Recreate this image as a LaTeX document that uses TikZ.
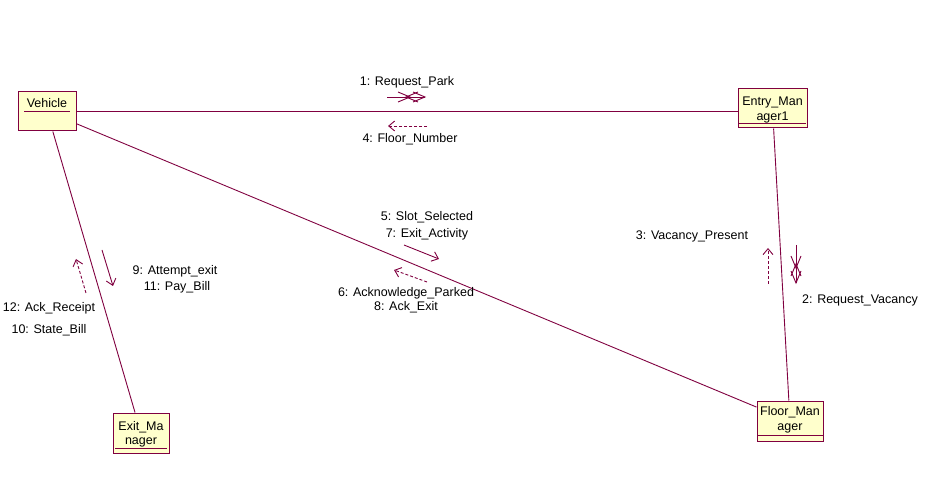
\documentclass[tikz,border=0pt]{standalone}
\usepackage{fontspec}
\setmainfont{Liberation Sans}
\usetikzlibrary{arrows.meta}
\definecolor{rose}{RGB}{128,0,64}
\definecolor{boxfill}{RGB}{255,255,204}
\begin{document}
\begin{tikzpicture}[x=1pt,y=-1pt,
  obj/.style={draw=rose, fill=boxfill, line width=1pt, inner sep=0pt, rectangle},
  lnk/.style={draw=rose, line width=0.9pt},
  sep/.style={draw=rose, line width=0.9pt},
  msg/.style={draw=rose, line width=0.9pt, -{Straight Barb[length=6pt,width=10pt]}},
  rmsg/.style={msg, dash pattern=on 3pt off 2pt},
  chev/.style={draw=rose, line width=0.9pt},
  lbl/.style={font=\fontsize{12.5}{14}\selectfont, inner sep=0pt, text=black},
]
\useasboundingbox (0,0) rectangle (927,497);
\fill[white] (0,0) rectangle (927,497);

% objects
\node[obj, minimum width=58pt, minimum height=39pt] (veh) at (47,111.5) {};
\node[obj, minimum width=69pt, minimum height=39pt] (ent) at (772.5,108.5) {};
\node[obj, minimum width=66pt, minimum height=40pt] (flm) at (790,421) {};
\node[obj, minimum width=56pt, minimum height=40pt] (exm) at (141,433) {};

\node[lbl] (vehT) at (47,103) {Vehicle};
\draw[sep] (24,111) -- (70,111);
\node[lbl] (entT1) at (772.5,102) {Entry\_Man};
\node[lbl] (entT2) at (772.5,117) {ager1};
\draw[sep] (739,123) -- (806,123);
\node[lbl] (flmT1) at (790,412) {Floor\_Man};
\node[lbl] (flmT2) at (790,428) {ager};
\draw[sep] (757,435) -- (823,435);
\node[lbl] (exmT1) at (141,427) {Exit\_Ma};
\node[lbl] (exmT2) at (141,442) {nager};
\draw[sep] (115,448) -- (167,448);

% links
\draw[lnk] (veh.east) -- (veh.east -| ent.west);
\draw[lnk] (veh) -- (flm);
\draw[lnk] (veh) -- (exm);
\draw[lnk] (ent) -- (flm);

% messages Vehicle -> Entry_Manager1
\coordinate (m1a) at (387,97); \coordinate (m1b) at (425,97);
\draw[chev] (m1a) -- (m1b);
\draw[chev] (398,92) -- (410,97) -- (398,102);
\draw[chev] (418,92) -- (406,97) -- (418,102);
\draw[chev] (413,92) -- (425,97) -- (413,102);
\node[lbl] (l1) at (407,82) {1: Request\_Park};

\coordinate (m4a) at (427,126); \coordinate (m4b) at (388,126);
\draw[rmsg] (m4a) -- (m4b);
\node[lbl] (l4) at (410,139) {4: Floor\_Number};

% Vehicle -> Floor_Manager
\coordinate (m5a) at (404,245); \coordinate (m5b) at (439,259);
\draw[msg] (m5a) -- (m5b);
\node[lbl] (l5) at (427,217) {5: Slot\_Selected};
\node[lbl] (l7) at (427,234) {7: Exit\_Activity};

\coordinate (m6a) at (427,282); \coordinate (m6b) at (394,270);
\draw[rmsg] (m6a) -- (m6b);
\node[lbl] (l6) at (406,293) {6: Acknowledge\_Parked};
\node[lbl] (l8) at (406,307) {8: Ack\_Exit};

% Vehicle -> Exit_Manager
\coordinate (m9a) at (102,250); \coordinate (m9b) at (113,286);
\draw[msg] (m9a) -- (m9b);
\node[lbl] (l9) at (175,271) {9: Attempt\_exit};
\node[lbl] (l11) at (177,287) {11: Pay\_Bill};

\coordinate (m12a) at (86,293); \coordinate (m12b) at (76,259);
\draw[rmsg] (m12a) -- (m12b);
\node[lbl] (l12) at (49,308) {12: Ack\_Receipt};
\node[lbl] (l10) at (49,330) {10: State\_Bill};

% Entry_Manager1 -> Floor_Manager
\coordinate (m2a) at (796,245); \coordinate (m2b) at (796,283);
\draw[chev] (m2a) -- (m2b);
\draw[chev] (791,256) -- (796,268) -- (801,256);
\draw[chev] (791,276) -- (796,264) -- (801,276);
\draw[chev] (791,271) -- (796,283) -- (801,271);
\node[lbl] (l2) at (860,300) {2: Request\_Vacancy};

\coordinate (m3a) at (768,284); \coordinate (m3b) at (768,248);
\draw[rmsg] (m3a) -- (m3b);
\node[lbl] (l3) at (692,236) {3: Vacancy\_Present};
\end{tikzpicture}
\end{document}
